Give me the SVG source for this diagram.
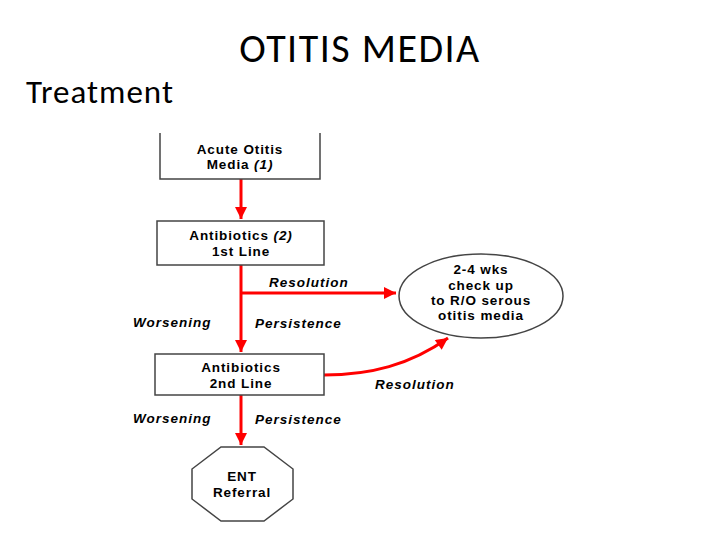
<svg xmlns="http://www.w3.org/2000/svg" width="720" height="540" viewBox="0 0 720 540">
<defs><marker id="ah" viewBox="0 0 10 10" refX="10" refY="5" markerWidth="4.5" markerHeight="4" orient="auto" markerUnits="strokeWidth"><path d="M0,0L10,5L0,10z" fill="#f00"/></marker>
<style>.n{fill:#fff;stroke:#444;stroke-width:1.5}.t{font-family:"Liberation Sans",Arial,sans-serif;font-weight:bold;font-size:13.5px;letter-spacing:0.9px;text-anchor:middle}.l{font-family:"Liberation Sans",Arial,sans-serif;font-weight:bold;font-style:italic;font-size:13.5px;letter-spacing:1px}.c{stroke:#f00;stroke-width:3;fill:none}</style></defs>
<rect width="720" height="540" fill="#fff"/>
<text x="360" y="62" font-family="Calibri,'Liberation Sans',sans-serif" font-size="40" letter-spacing="1.5" text-anchor="middle">OTITIS MEDIA</text>
<text x="26" y="103" font-family="Calibri,'Liberation Sans',sans-serif" font-size="33" letter-spacing="1">Treatment</text>
<g id="connectors">
<path class="c" d="M241,179V219" marker-end="url(#ah)"/>
<path class="c" d="M241,265V352" marker-end="url(#ah)"/>
<path class="c" d="M241,293H396" marker-end="url(#ah)"/>
<path class="c" d="M324,375C370,375 410,365 448,338" marker-end="url(#ah)"/>
<path class="c" d="M241,395V445" marker-end="url(#ah)"/>
<text class="l" x="269" y="287">Resolution</text>
<text class="l" x="133" y="327">Worsening</text>
<text class="l" x="255" y="328">Persistence</text>
<text class="l" x="375" y="389">Resolution</text>
<text class="l" x="133" y="423">Worsening</text>
<text class="l" x="255" y="424">Persistence</text>
</g>
<g id="n1"><path class="n" d="M160,133V179H320V133"/><text class="t" x="240" y="154">Acute Otitis</text><text class="t" x="240" y="169">Media <tspan font-style="italic">(1)</tspan></text></g>
<g id="n2"><rect class="n" x="157" y="221" width="167" height="44"/><text class="t" x="241" y="240">Antibiotics <tspan font-style="italic">(2)</tspan></text><text class="t" x="241" y="256">1st Line</text></g>
<g id="n3"><ellipse class="n" cx="481" cy="296" rx="82" ry="42"/><text class="t" x="481" y="274">2-4 wks</text><text class="t" x="481" y="290">check up</text><text class="t" x="481" y="305">to R/O serous</text><text class="t" x="481" y="320">otitis media</text></g>
<g id="n4"><rect class="n" x="155" y="354" width="169" height="41"/><text class="t" x="241" y="372">Antibiotics</text><text class="t" x="241" y="388">2nd Line</text></g>
<g id="n5"><path class="n" d="M221,447H264L293,469V499L264,521H221L192,499V469Z"/><text class="t" x="242" y="481">ENT</text><text class="t" x="242" y="497">Referral</text></g>
</svg>
